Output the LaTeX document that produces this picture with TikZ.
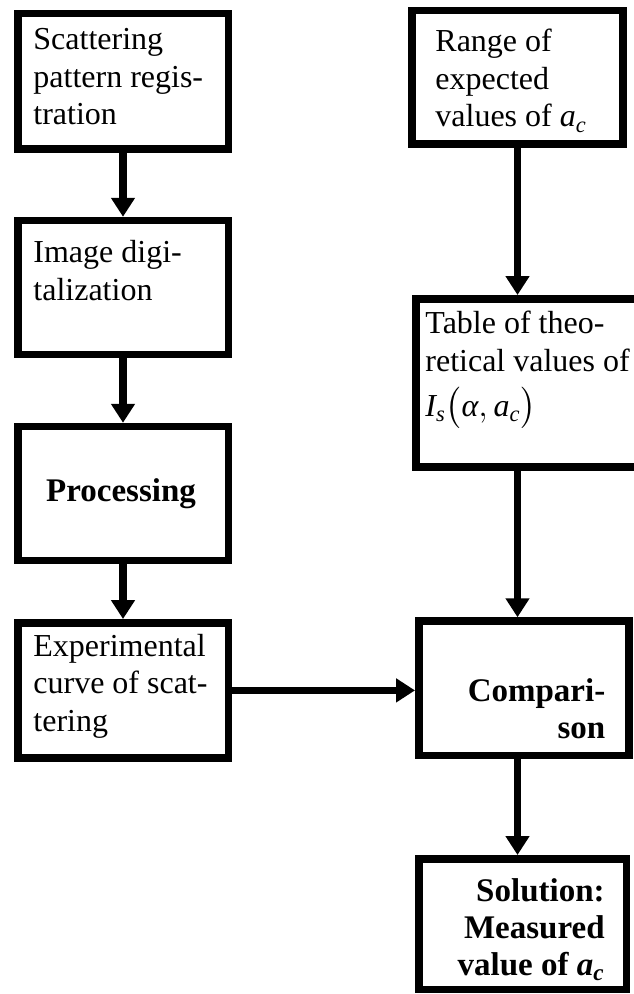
\documentclass[tikz,border=0pt]{standalone}
\usepackage{amsmath}
\usepackage{fontspec}
\setmainfont{Liberation Serif}
\usetikzlibrary{arrows.meta}

\tikzset{
    block/.style={draw, line width=3.75pt, inner sep=0pt},
    flow/.style={line width=3.75pt, -{Triangle[width=11.5pt, length=9.5pt]}},
    txt/.style={inner sep=0pt, align=left, font=\fontsize{16}{18.75}\selectfont},
    btxt/.style={inner sep=0pt, align=right, font=\fontsize{16.5}{18.5}\selectfont\bfseries}
}

\begin{document}
\begin{tikzpicture}[x=0.5pt, y=-0.5pt]

    % one pixel of the sheet
    \def\pix{0.5pt}
    \useasboundingbox (0,0) rectangle (633,994);

    % Left column
    \node[block, minimum width=210.5*\pix, minimum height=135.5*\pix] (scat) at (123,81.5) {};
    \node[block, minimum width=210.5*\pix, minimum height=133.75*\pix] (image) at (123,287.4) {};
    \node[block, minimum width=210.5*\pix, minimum height=133.75*\pix] (proc) at (123,493.4) {};
    \node[block, minimum width=210.5*\pix, minimum height=135.25*\pix] (expt) at (123,690.4) {};

    % Right column
    \node[block, minimum width=211*\pix, minimum height=133.5*\pix] (range) at (517.5,77.25) {};
    \node[block, minimum width=225*\pix, minimum height=168.25*\pix] (table) at (528.5,382.9) {};
    \node[block, minimum width=210.25*\pix, minimum height=134.5*\pix] (comp) at (523.9,688.25) {};
    \node[block, minimum width=207.5*\pix, minimum height=130.5*\pix] (sol) at (522.5,924) {};

    % Texts (placed by the baseline of their last line)
    \node[txt, anchor=base west] (scat-t) at (33,125) {Scattering\\pattern regis-\\tration};
    \node[txt, anchor=base west] (image-t) at (33,300) {Image digi-\\talization};
    \node[btxt, anchor=base] (proc-t) at (121,501.7) {Processing};
    \node[txt, anchor=base west] (expt-t) at (33,731) {Experimental\\curve of scat-\\tering};
    \node[txt, anchor=base west] (range-t) at (435,127) {Range of\\expected\\values of $\textit{a}_{\textit{c}}$};
    \node[txt, anchor=base west] (table-t) at (425,416.7) {Table of theo-\\retical values of\\[4pt]
        $\textit{I}_{\textit{s}}\bigl(\textit{α},\textit{a}_{\textit{c}}\bigr)$};
    \node[btxt, anchor=base east] (comp-t) at (605.7,738) {Compari-\\son};
    \node[btxt, anchor=base east] (sol-t) at (605,975) {Solution:\\Measured\\value of $\textit{a}_{\textit{c}}$};

    % Arrows
    \draw[flow] (scat) -- (image);
    \draw[flow] (image) -- (proc);
    \draw[flow] (proc) -- (expt);
    \draw[flow] (range) -- (range |- table.north);
    \draw[flow] (range |- table.south) -- (range |- comp.north);
    \draw[flow] (range |- comp.south) -- (range |- sol.north);
    \draw[flow] (expt) -- (expt -| comp.west);

\end{tikzpicture}
\end{document}
